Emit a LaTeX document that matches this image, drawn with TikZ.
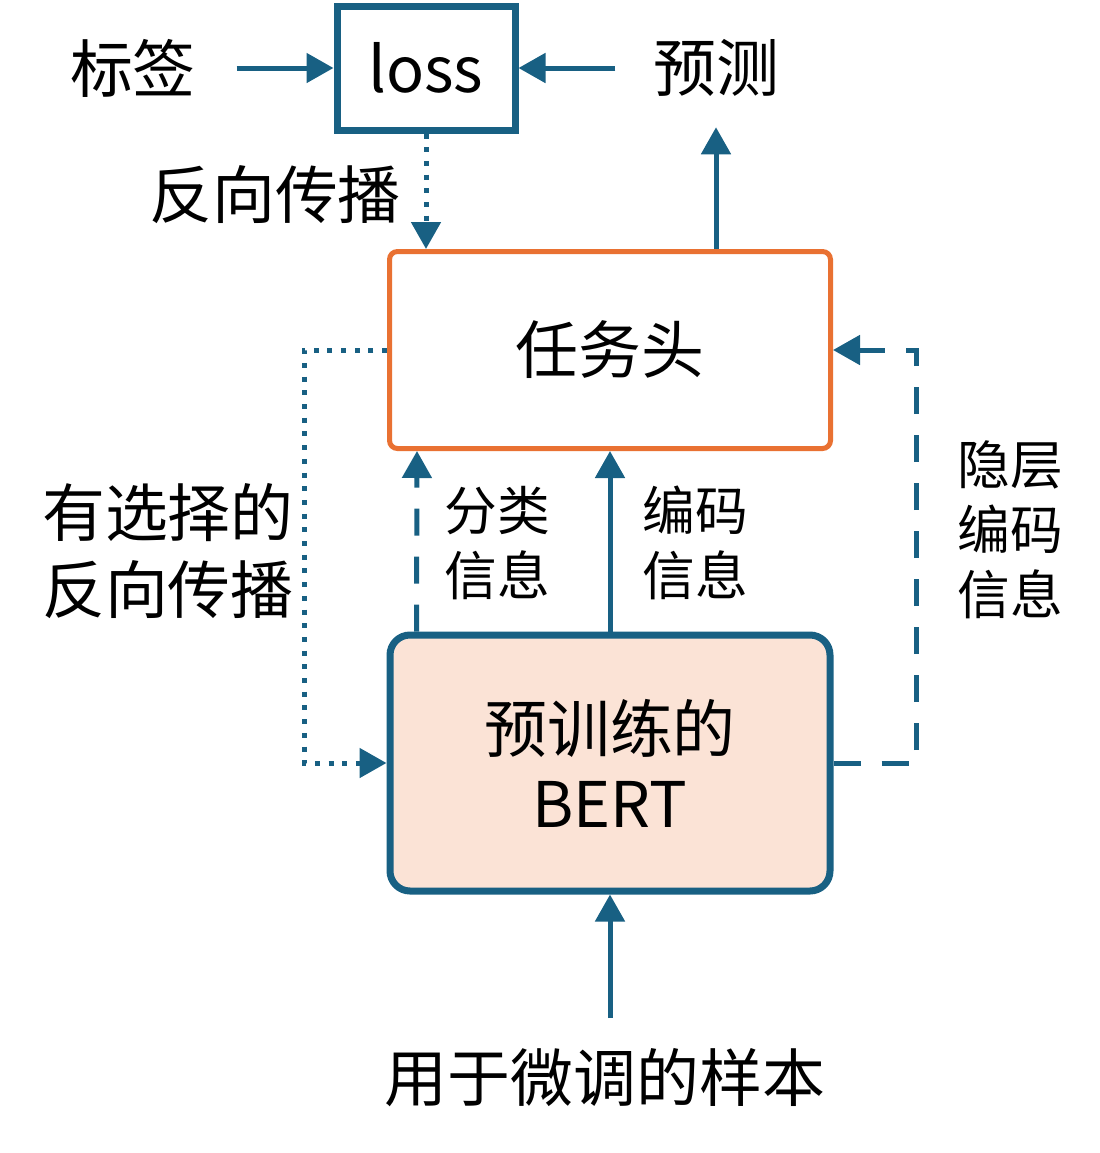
\documentclass[tikz,border=0pt]{standalone}
\usepackage{fontspec}
\setmainfont{Noto Sans CJK SC}
\usepackage{xcolor}
\usetikzlibrary{arrows.meta}
\definecolor{lineblue}{HTML}{186083}
\definecolor{headorange}{HTML}{E97132}
\definecolor{bertfill}{HTML}{FBE3D6}
\tikzset{
	flow/.style={line width=0.5mm, lineblue, -{Triangle[length=2.7mm,width=2.9mm]}},
	dotflow/.style={flow, dash pattern=on 0.5mm off 0.87mm},
	dashflow/.style={flow, dash pattern=on 2.7mm off 2.1mm},
	bigtext/.style={font=\fontsize{17.9}{22}\selectfont, align=center, inner sep=0pt},
	smalltext/.style={font=\fontsize{15}{18.5}\selectfont, align=center, inner sep=0pt},
}
\begin{document}
\begin{tikzpicture}[x=0.1mm, y=-0.1mm]
	\useasboundingbox (0,0) rectangle (1100,1153);

	% Draw the boxes
	\node[draw=lineblue, line width=0.7mm, minimum width=17.8mm, minimum height=12.4mm, bigtext] (loss) at (426,68) {loss};
	\node[draw=headorange, line width=0.5mm, rounded corners=0.8mm, minimum width=44.1mm, minimum height=19.7mm, bigtext] (head) at (610,350) {任务头};
	\node[draw=lineblue, fill=bertfill, line width=0.7mm, rounded corners=2mm, minimum width=44mm, minimum height=25.6mm, font=\fontsize{17.9}{21.3}\selectfont, align=center, inner sep=0pt] (bert) at (610,763) {预训练的\\BERT};

	% Labels
	\node[bigtext] (label) at (133,68) {标签};
	\node[bigtext] (pred) at (716,68) {预测};
	\node[bigtext] (bp) at (275,195) {反向传播};
	\node[bigtext] (sel) at (168,551) {有选择的\\反向传播};
	\node[smalltext] (cls) at (497,543) {分类\\信息};
	\node[smalltext] (enc) at (695,543) {编码\\信息};
	\node[smalltext] (hid) at (1010,530) {隐层\\编码\\信息};
	\node[bigtext] (sample) at (605,1078) {用于微调的样本};

	% Connectors
	\draw[flow, shorten <=4mm] (label.east) -- (loss.west);
	\draw[flow, shorten <=3.7mm] (pred.west) -- (loss.east);
	\draw[flow, shorten >=3mm] (head.north -| pred) -- (pred.south);
	\draw[dotflow] (loss.south) -- (loss.south |- head.north);
	\draw[flow] (bert.north) -- (head.south);
	\draw[dashflow] ([xshift=3mm]bert.north west) -- ([xshift=3mm]head.south west);
	\draw[dotflow] (head.west) -- ++(-83,0) |- (bert.west);
	\draw[dashflow] (bert.east) -- ++(83,0) |- (head.east);
	\draw[flow, shorten <=3mm] (bert.south |- sample.north) -- (bert.south);
\end{tikzpicture}
\end{document}
